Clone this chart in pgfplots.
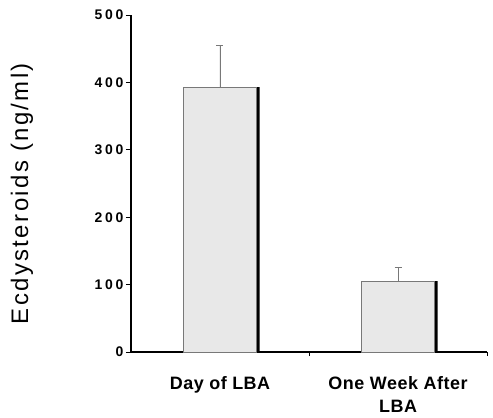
\documentclass[border=0pt]{standalone}
\usepackage{fontspec}
\setmainfont{Liberation Sans}
\usepackage{pgfplots}
\pgfplotsset{compat=1.18}

\definecolor{barfill}{RGB}{232,232,232}
\definecolor{baredge}{RGB}{120,120,120}

\begin{document}
\begin{tikzpicture}
  \path[use as bounding box] (-131bp,-66bp) rectangle (362bp,352bp);
  \begin{axis}[
      scale only axis,
      width=356bp,
      height=337bp,
      xmin=0, xmax=2,
      ymin=0, ymax=500,
      axis x line=bottom,
      axis y line=left,
      axis line style={-, line width=1.1pt},
      xtick={0.5,1.5},
      xticklabels={Day of LBA, One Week After\\LBA},
      major x tick style={draw=none},
      minor xtick={1,2},
      minor tick length=4bp,
      ytick={0,100,200,300,400,500},
      tick align=outside,
      major tick length=5bp,
      tick style={line width=0.8pt, black},
      x tick label style={align=center, font=\fontsize{18}{23}\selectfont\bfseries\addfontfeatures{LetterSpace=3}, yshift=-16bp},
      y tick label style={font=\fontsize{14}{16}\selectfont\bfseries\addfontfeatures{LetterSpace=20}, xshift=1bp},
      /pgf/number format/assume math mode=true,
      ylabel={Ecdysteroids (ng/ml)},
      ylabel style={font=\fontsize{24}{26}\selectfont\addfontfeatures{LetterSpace=10}, at={(axis description cs:-0.306,0.47)}, anchor=center},
      bar width=73bp,
      clip=false,
    ]
    % shadow on the right edge
    \addplot[ybar, bar shift=3bp, fill=black, draw=none] coordinates {(0.5,393) (1.5,105)};
    % bars with upward error
    \addplot[ybar, bar shift=0bp, fill=barfill, draw=baredge, line width=0.5pt,
      error bars/.cd, y dir=plus, y explicit,
      error mark options={rotate=90, mark size=3.5bp, line width=0.8pt, baredge},
      error bar style={line width=0.8pt, baredge}]
      coordinates {(0.5,393) +- (0,62) (1.5,105) +- (0,20)};
  \end{axis}
\end{tikzpicture}
\end{document}
